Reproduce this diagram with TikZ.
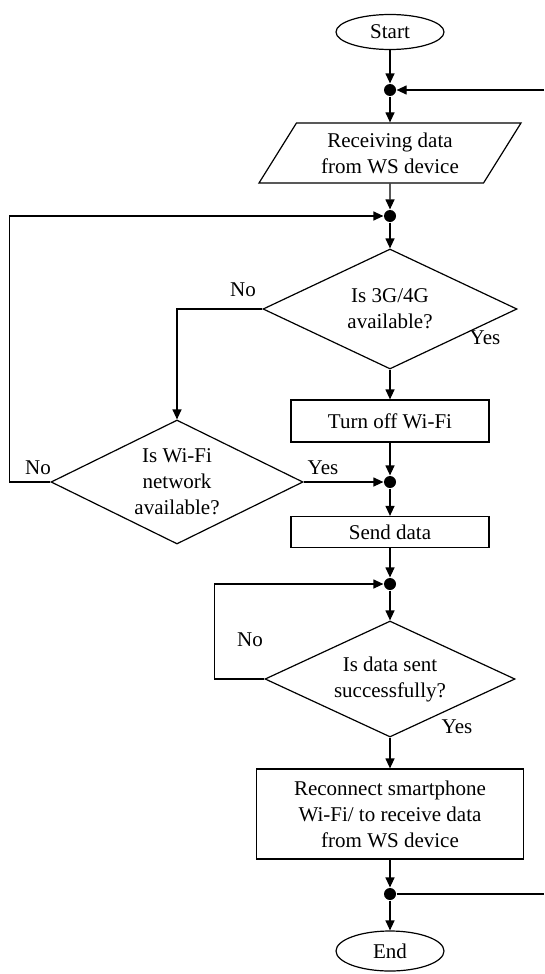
\documentclass[tikz,border=0pt]{standalone}
\usepackage{fontspec}
\setmainfont{Liberation Serif}
\usetikzlibrary{arrows.meta,positioning,shapes.geometric}

\begin{document}
\begin{tikzpicture}[x=1pt,y=-1pt,on grid,line width=1.2pt,
        >={Triangle[length=10pt,width=9pt]},
        every node/.style={font=\fontsize{21}{26}\selectfont},
        term/.style={ellipse,draw,minimum width=108pt,minimum height=35pt,inner sep=0pt},
        io/.style={trapezium,draw,trapezium left angle=47.5,trapezium right angle=132.5,
            trapezium stretches body,minimum width=262pt,minimum height=60pt,align=center,inner sep=0pt},
        proc/.style={rectangle,draw,minimum width=198pt,align=center,inner sep=0pt},
        decision/.style={diamond,draw,aspect=2,minimum width=254pt,minimum height=120pt,align=center,inner sep=0pt},
        dot/.style={circle,fill,inner sep=0pt,minimum size=12pt},
        lbl/.style={inner sep=0pt}]
    \useasboundingbox (0,0) rectangle (544,974);
    \node[term] (start) at (390,32) {Start};
    \node[dot] [below=58pt of start] (j1) {};
    \node[io] [below=63pt of j1] (input) {Receiving data\\from WS device};
    \node[dot] [below=63pt of input] (j2) {};
    \node[decision] [below=93pt of j2] (q3g) {Is 3G/4G\\available?};
    \node[proc,minimum height=42pt] [below=112pt of q3g] (wifioff) {Turn off Wi-Fi};
    \node[dot] [below=61pt of wifioff] (j3) {};
    \node[decision,minimum width=252pt,minimum height=124pt] [left=213pt of j3] (qwifi) {Is Wi-Fi\\network\\available?};
    \node[proc,minimum height=31pt] [below=50pt of j3] (send) {Send data};
    \node[dot] [below=52pt of send] (j4) {};
    \node[decision,minimum width=250pt,minimum height=116pt] [below=95pt of j4] (qsent) {Is data sent\\successfully?};
    \node[proc,minimum width=267pt,minimum height=90pt] [below=135pt of qsent] (recon) {Reconnect smartphone\\Wi-Fi/ to receive data\\from WS device};
    \node[dot] [below=80pt of recon] (j5) {};
    \node[term,minimum height=40pt] [below=57pt of j5] (end) {End};
    \coordinate (backin) at (544,90);
    \coordinate (backout) at (544,894);

    \foreach \a/\b in {start/j1,j1/input,input/j2,j2/q3g,q3g/wifioff,wifioff/j3,j3/send,
            send/j4,j4/qsent,qsent/recon,recon/j5,j5/end}
        \draw[->] (\a) -- (\b);
    \draw[->] (backin) -- (j1);
    \draw (j5) -- (backout);
    \draw[->] (q3g.west) -| (qwifi.north);
    \draw[->] (qwifi.west) -- ++(-41,0) |- (j2);
    \draw[->] (qwifi.east) -- (j3);
    \draw[->] (qsent.west) -- ++(-50,0) |- (j4);

    \node[lbl] (no1) at (243,290) {No};
    \node[lbl] (yes1) at (485,338) {Yes};
    \node[lbl] (no2) at (38,468) {No};
    \node[lbl] (yes2) at (323,468) {Yes};
    \node[lbl] (no3) at (250,640) {No};
    \node[lbl] (yes3) at (457,727) {Yes};
\end{tikzpicture}
\end{document}
